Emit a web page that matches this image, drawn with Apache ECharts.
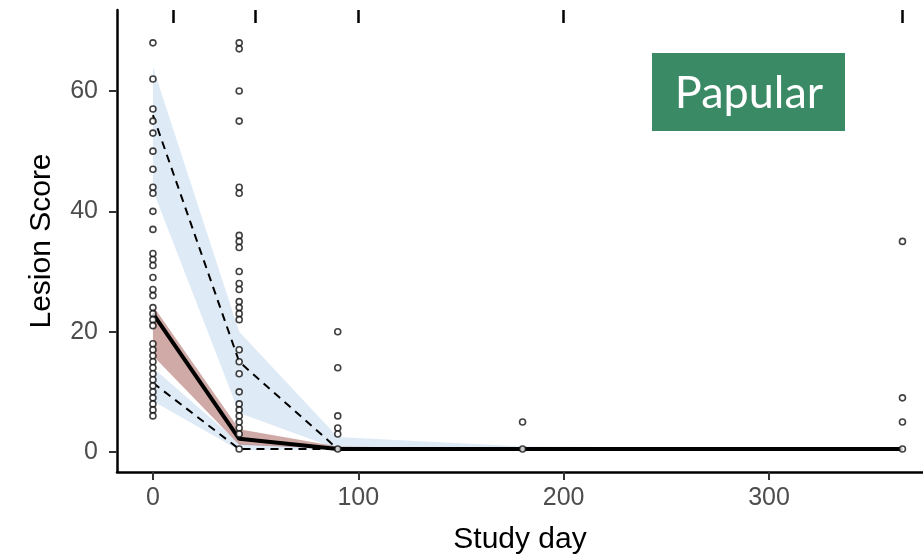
<!DOCTYPE html>
<html>
<head>
    <meta charset="UTF-8">
    <title>Papular lesion score</title>
    <script src="https://cdn.jsdelivr.net/npm/echarts@6/dist/echarts.min.js"></script>
    <style>
        html, body { margin: 0; padding: 0; background: #fff; }
        #chart { width: 923px; height: 554px; }
    </style>
</head>
<body>
    <div id="chart"></div>
    <script>
        // study days
        const days = [0, 42, 90, 180, 365];

        // individual scores per visit
        const day0Scores = [68, 62, 57, 55, 53, 50, 47, 44, 43, 40, 37, 33, 32, 31, 29, 27, 26, 24, 23, 22, 21,
                            18, 17, 16, 15, 14, 13, 12, 11, 10, 9, 8, 7, 6];
        const day42Scores = [68, 67, 60, 55, 44, 43, 36, 35, 34, 30, 28, 27, 25, 24, 23, 22,
                             17, 15, 13, 10, 8, 7, 6, 5, 4, 3, 0.5];
        const day90Scores = [20, 14, 6, 4, 3, 0.5];
        const day180Scores = [5, 0.5];
        const day365Scores = [35, 9, 5, 0.5];

        // fitted lines
        const median = [23, 2.2, 0.5, 0.5, 0.5];
        const upperQ = [56, 15, 0.5, 0.5, 0.5];
        const lowerQ = [11.5, 0.5, 0.5, 0.5, 0.5];

        // bands
        const medianLo = [16, 1.2, 0.5, 0.5, 0.5];
        const medianHi = [24.3, 3.8, 0.9, 0.5, 0.5];
        const upperLo = [43.5, 6.5, 0.5, 0.5, 0.5];
        const upperHi = [64, 20, 2.5, 0.9, 0.5];
        const lowerLo = [8.5, 0.3, 0.5, 0.5, 0.5];
        const lowerHi = [14, 1.5, 0.5, 0.5, 0.5];

        const xTicks = [0, 100, 200, 300];
        const yTicks = [0, 20, 40, 60];
        const topTicks = [10, 50, 100, 200, 365];

        const chart = echarts.init(document.getElementById('chart'));

        const scoreSets = [day0Scores, day42Scores, day90Scores, day180Scores, day365Scores];
        const points = [];
        scoreSets.forEach((arr, i) => arr.forEach(v => points.push([days[i], v])));

        function band(lo, hi, color) {
            return {
                type: 'custom',
                silent: true,
                clip: true,
                z: 1,
                data: [[0, 0]],
                renderItem: function (params, api) {
                    const pts = [];
                    for (let i = 0; i < days.length; i++) pts.push(api.coord([days[i], hi[i]]));
                    for (let i = days.length - 1; i >= 0; i--) pts.push(api.coord([days[i], lo[i]]));
                    return { type: 'polygon', shape: { points: pts }, style: { fill: color } };
                }
            };
        }

        function line(vals, width, type, z) {
            return {
                type: 'line',
                data: days.map((d, i) => [d, vals[i]]),
                symbol: 'none',
                silent: true,
                z: z,
                lineStyle: { color: '#000', width: width, type: type }
            };
        }

        const axisText = { color: '#4d4d4d', fontSize: 25, fontFamily: 'Liberation Sans, Arial, sans-serif' };

        chart.setOption({
            animation: false,
            grid: { left: 117, right: 0, top: 10, bottom: 82, outerBoundsMode: 'none', containLabel: false },
            xAxis: [{
                type: 'value',
                min: -17.5,
                max: 375,
                name: 'Study day',
                nameLocation: 'middle',
                nameGap: 53,
                nameTextStyle: { color: '#000', fontSize: 30, fontFamily: 'Liberation Sans, Arial, sans-serif' },
                splitLine: { show: false },
                axisLine: { onZero: false, lineStyle: { color: '#000', width: 2.5 } },
                axisTick: { customValues: xTicks, length: 8, lineStyle: { color: '#333', width: 2 } },
                axisLabel: Object.assign({ customValues: xTicks, margin: 14 }, axisText)
            }, {
                type: 'value',
                position: 'top',
                min: -17.5,
                max: 375,
                splitLine: { show: false },
                axisLine: { show: false, onZero: false },
                axisTick: { customValues: topTicks, inside: true, length: 13, lineStyle: { color: '#000', width: 2.5 } },
                axisLabel: { show: false }
            }],
            yAxis: {
                type: 'value',
                min: -3.32,
                max: 73.46,
                name: 'Lesion Score',
                nameLocation: 'middle',
                nameGap: 60,
                nameTextStyle: { color: '#000', fontSize: 30, fontFamily: 'Liberation Sans, Arial, sans-serif' },
                splitLine: { show: false },
                axisLine: { onZero: false, lineStyle: { color: '#000', width: 2.5 } },
                axisTick: { customValues: yTicks, length: 8, lineStyle: { color: '#333', width: 2 } },
                axisLabel: Object.assign({ customValues: yTicks, margin: 19 }, axisText)
            },
            graphic: [{
                type: 'rect',
                left: 652, top: 53,
                shape: { width: 193, height: 78 },
                style: { fill: '#3b8a66' },
                z: 10
            }, {
                type: 'text',
                x: 749, y: 93,
                style: {
                    text: 'Papular', fill: '#fff',
                    font: '45px Lato, "Open Sans", sans-serif',
                    align: 'center', verticalAlign: 'middle'
                },
                z: 11
            }],
            series: [
                band(upperLo, upperHi, 'rgba(200,220,240,0.6)'),
                band(lowerLo, lowerHi, 'rgba(200,220,240,0.6)'),
                band(medianLo, medianHi, 'rgba(170,100,95,0.55)'),
                line(upperQ, 2, [8, 6], 3),
                line(lowerQ, 2, [8, 6], 3),
                line(median, 4, 'solid', 4),
                {
                    type: 'scatter',
                    data: points,
                    symbol: 'circle',
                    symbolSize: 6,
                    silent: true,
                    z: 5,
                    itemStyle: { color: '#fff', borderColor: '#111', borderWidth: 1.6 }
                }
            ]
        });
    </script>
</body>
</html>
